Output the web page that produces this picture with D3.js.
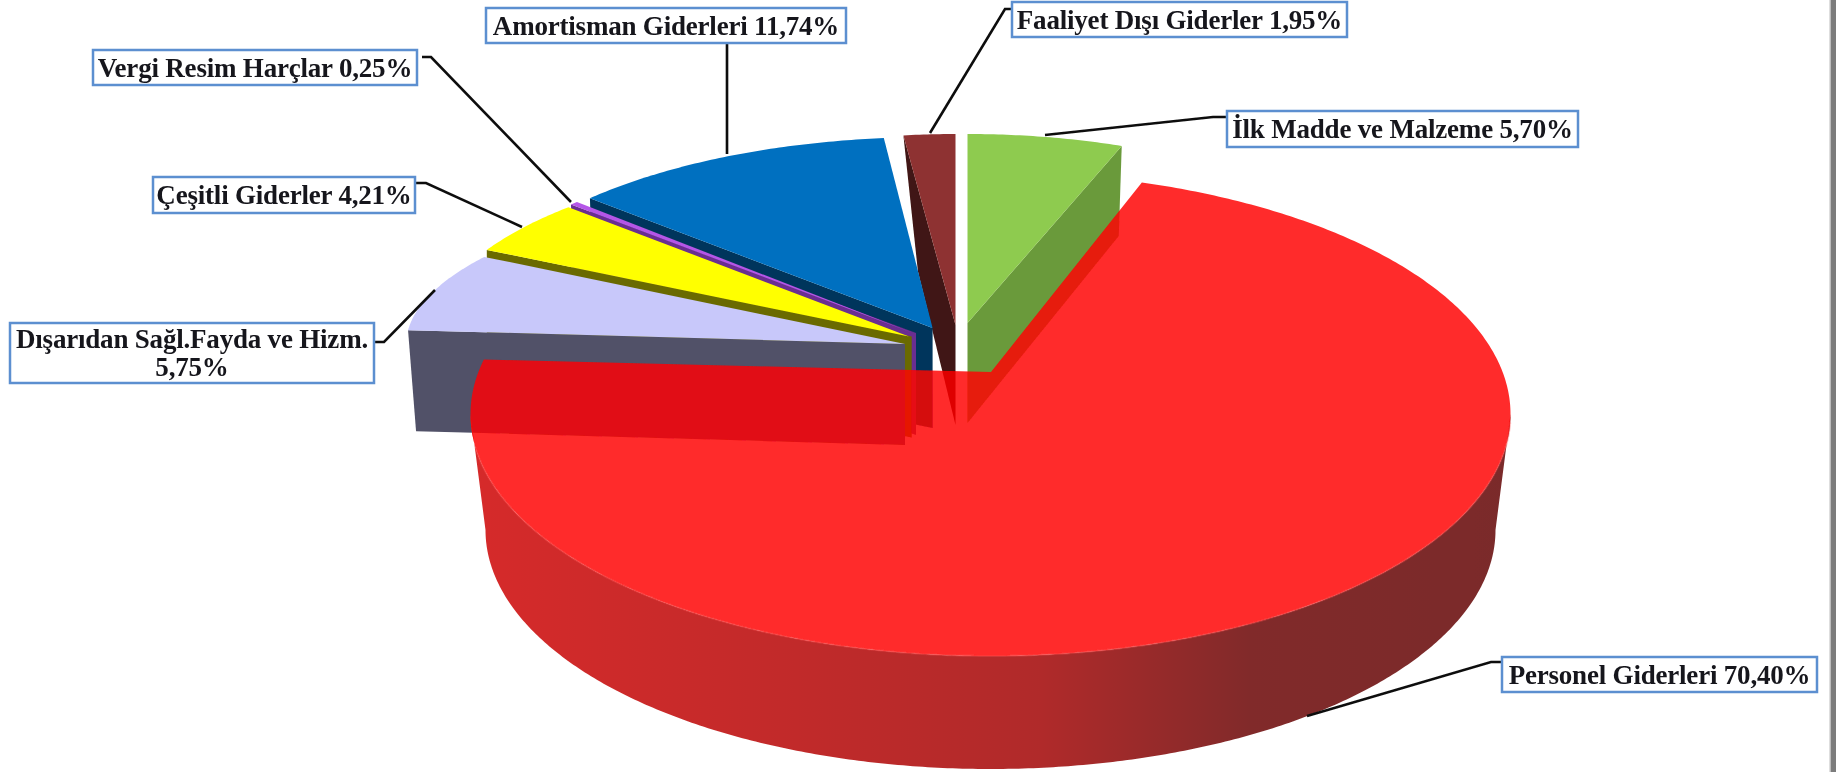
<!DOCTYPE html>
<html>
<head>
	<meta charset="utf-8">
	<title>Giderler</title>
	<script src="https://cdn.jsdelivr.net/npm/d3@7"></script>
	<style type="text/css">
		html, body { margin: 0; padding: 0; background: #fff; overflow: hidden; }
		svg { display: block; }
		text { font-family: "Liberation Serif", serif; font-weight: bold; fill: #14141a; letter-spacing: -0.2px; }
	</style>
</head>
<body>
	<script type="text/javascript">
		// Chart values, in drawing order clockwise from 12 o'clock
		var categories = ["İlk Madde ve Malzeme", "Personel Giderleri", "Dışarıdan Sağl.Fayda ve Hizm.",
			"Çeşitli Giderler", "Vergi Resim Harçlar", "Amortisman Giderleri", "Faaliyet Dışı Giderler"];
		var shares = [5.70, 70.40, 5.75, 4.21, 0.25, 11.74, 1.95];

		var faceColors = ["#8ecb4f", "#ff0101", "#c8c8fa", "#ffff00", "#b556e8", "#0070c0", "#8e3232"];
		var wallColors = ["#6b9a3b", "#c02a2a", "#515168", "#6b6b00", "#6a2d91", "#06365c", "#3f1412"];

		// Exploded ellipse of every slice on screen (perspective, so each one differs)
		// shift/stretch bend the pie angle onto the tilted ellipse, wx is the inner wall edge
		var layout = [
			{ ax: 967.5, ay: 323, cx: 967.5, cy: 323, rx: 440, ry: 189, shift: 0, stretch: 1, side: "end", wx: 967.5, depth: 100, px: -3, py: 90 },
			{ ax: 991, ay: 372, cx: 990.5, cy: 414, rx: 520, ry: 242, shift: -3.6, stretch: 1.05 },
			{ ax: 905, ay: 344, cx: 906, cy: 345, rx: 500, ry: 164, shift: 1.24, stretch: 1.319, side: "start", wx: 905, depth: 101, px: 8, py: 101 },
			{ ax: 909, ay: 336.5, cx: 912.7, cy: 335, rx: 481, ry: 183, shift: 3.04, stretch: 1.095, side: "start", wx: 911.7, depth: 101, px: 0, py: 102 },
			{ ax: 913, ay: 333, cx: 913, cy: 333, rx: 464, ry: 190, shift: 2.7, stretch: 1.2, side: "start", wx: 916, depth: 102, px: 2, py: 100 },
			{ ax: 932.6, ay: 328, cx: 932.6, cy: 328, rx: 467, ry: 191, shift: 2.08, stretch: 0.975, side: "start", wx: 932.6, depth: 100, px: 5, py: 162 },
			{ ax: 955.5, ay: 325, cx: 955.5, cy: 325, rx: 426, ry: 191, shift: 0, stretch: 1, side: "start", wx: 955.5, depth: 100, px: 14.5, py: 136 }
		];
		var drawOrder = [6, 5, 4, 3, 2, 0];

		// Label boxes: x0, y0, x1, y1 and the leader polyline from slice to box
		var boxes = [
			[1227, 111, 1578, 147], [1502, 657, 1817, 692], [10, 323, 374, 383],
			[153, 177, 415, 213], [93, 50, 417, 85], [486, 8, 846, 43], [1012, 2, 1347, 37]
		];
		var leaders = [
			[[1045, 135], [1213, 117], [1227, 117]],
			[[1307, 716], [1491, 662], [1502, 662]],
			[[435, 290], [384, 342], [374, 342]],
			[[522, 227], [426, 183], [415, 183]],
			[[571, 202], [431, 57], [422, 57]],
			[[727, 154], [727, 43]],
			[[930, 133], [1005, 9], [1012, 9]]
		];

		var width = 1836;
		var height = 772;
		var rad = Math.PI / 180;

		var svg = d3.select("body").append("svg")
			.attr("width", width)
			.attr("height", height);

		var defs = svg.append("defs");

		// Red wall shading, light on the left and brown on the right
		var wallGrad = defs.append("linearGradient")
			.attr("id", "redWall")
			.attr("gradientUnits", "userSpaceOnUse")
			.attr("x1", 470).attr("x2", 1510).attr("y1", 0).attr("y2", 0);
		wallGrad.selectAll("stop")
			.data([[0, "#d62c2c"], [0.3, "#c22a2a"], [0.55, "#b02b2b"], [0.75, "#812a2a"], [1, "#7a2a2a"]])
			.enter().append("stop")
			.attr("offset", function(d) { return d[0]; })
			.attr("stop-color", function(d) { return d[1]; });

		// The reference is a soft, upscaled picture
		defs.append("filter")
			.attr("id", "soft")
			.append("feGaussianBlur")
			.attr("stdDeviation", 0.5);

		var slices = d3.pie().sort(null).value(function(d) { return d; })(shares);
		var line = d3.line();

		function onEllipse(g, a) {
			return [g.cx + g.rx * Math.sin(a), g.cy - g.ry * Math.cos(a)];
		}

		function arcPoints(g, a0, a1) {
			var n = Math.ceil(Math.abs(a1 - a0) / 0.01);
			return d3.range(n + 1).map(function(i) {
				return onEllipse(g, a0 + (a1 - a0) * i / n);
			});
		}

		// Pie angles as they land on the slice's own ellipse
		function drawnAngles(i) {
			var g = layout[i], s = slices[i];
			var a0 = s.startAngle + g.shift * rad;
			return [a0, a0 + (s.endAngle - s.startAngle) * g.stretch];
		}

		var chart = svg.append("g").attr("filter", "url(#soft)");
		var pieGroup = chart.append("g");

		// Exploded slices, back to front, wall first
		drawOrder.forEach(function(i) {
			var g = layout[i];
			var a = drawnAngles(i);
			var o = onEllipse(g, g.side == "end" ? a[1] : a[0]);
			pieGroup.append("path")
				.attr("d", line([o, [g.wx, g.ay], [g.wx, g.ay + g.depth], [o[0] + g.px, o[1] + g.py]]) + "Z")
				.attr("fill", wallColors[i]);
			pieGroup.append("path")
				.attr("d", line([[g.ax, g.ay]].concat(arcPoints(g, a[0], a[1]))) + "Z")
				.attr("fill", faceColors[i]);
		});

		// Big red slice: side wall, then a see-through top that lets the other walls show
		var red = layout[1];
		var redAngles = drawnAngles(1);
		var redBottom = { cx: 990.5, cy: 530, rx: 505, ry: 239 };

		pieGroup.append("path")
			.attr("d", line(arcPoints(red, 90 * rad, 270 * rad).concat(arcPoints(redBottom, 270 * rad, 90 * rad))) + "Z")
			.attr("fill", "url(#redWall)");

		pieGroup.append("path")
			.attr("d", line([[red.ax, red.ay]].concat(arcPoints(red, redAngles[0], redAngles[1]))) + "Z")
			.attr("fill", faceColors[1])
			.attr("opacity", 0.83);

		// Light rim where the top meets the wall
		pieGroup.append("path")
			.attr("d", line(arcPoints(red, 92 * rad, 262 * rad)))
			.attr("fill", "none")
			.attr("stroke", "#ff5050")
			.attr("stroke-opacity", 0.35)
			.attr("stroke-width", 2);

		// Leaders
		chart.selectAll(".leader")
			.data(leaders)
			.enter().append("path")
			.attr("class", "leader")
			.attr("d", function(d) { return line(d); })
			.attr("fill", "none")
			.attr("stroke", "#111")
			.attr("stroke-width", 2.6);

		// Label boxes
		var label = chart.selectAll(".label")
			.data(categories)
			.enter().append("g")
			.attr("class", "label");

		label.append("rect")
			.attr("x", function(d, i) { return boxes[i][0]; })
			.attr("y", function(d, i) { return boxes[i][1]; })
			.attr("width", function(d, i) { return boxes[i][2] - boxes[i][0]; })
			.attr("height", function(d, i) { return boxes[i][3] - boxes[i][1]; })
			.attr("fill", "#fff")
			.attr("stroke", "#5b8fd0")
			.attr("stroke-width", 2.5);

		function pct(v) {
			return v.toFixed(2).replace(".", ",") + "%";
		}

		label.each(function(d, i) {
			var b = boxes[i];
			var mid = (b[0] + b[2]) / 2;
			var t = d3.select(this).append("text")
				.attr("text-anchor", "middle")
				.attr("font-size", 27);
			// the long lavender label breaks onto two lines
			if (b[3] - b[1] > 50) {
				t.append("tspan").attr("x", mid).attr("y", b[1] + 25).text(d);
				t.append("tspan").attr("x", mid).attr("y", b[1] + 53).text(pct(shares[i]));
			} else {
				t.attr("x", mid).attr("y", (b[1] + b[3]) / 2 + 9).text(d + " " + pct(shares[i]));
			}
		});

		// Grey page edge on the right
		svg.append("rect")
			.attr("x", 1829.5).attr("y", 0)
			.attr("width", 1.5).attr("height", height)
			.attr("fill", "#bdbdbd");
		svg.append("rect")
			.attr("x", 1831).attr("y", 0)
			.attr("width", 5).attr("height", height)
			.attr("fill", "#7c7c7c");
	</script>
</body>
</html>
